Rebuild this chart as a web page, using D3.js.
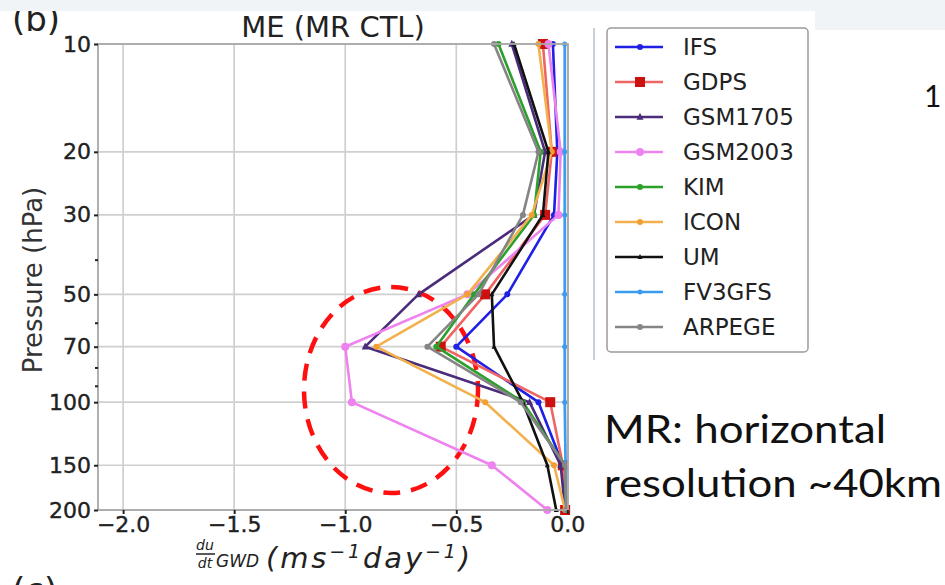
<!DOCTYPE html>
<html><head><meta charset="utf-8">
<script src="https://cdn.jsdelivr.net/npm/d3@7"></script>
<style>html,body{margin:0;padding:0;background:#fff;}svg{display:block;}</style>
</head><body>
<svg id="c" width="945" height="585"></svg>
<script>
// ---- data ----
const pressure = [10, 20, 30, 50, 70, 100, 150, 200];
const seriesNames = ["IFS","GDPS","GSM1705","GSM2003","KIM","ICON","UM","FV3GFS","ARPEGE"];
const IFS     = [-0.065,-0.045,-0.06,-0.27,-0.50,-0.13,-0.02,-0.01];
const GDPS    = [-0.11,-0.07,-0.10,-0.37,-0.57,-0.077,-0.02,-0.01];
const GSM1705 = [-0.25,-0.10,-0.15,-0.67,-0.91,-0.17,-0.03,-0.01];
const GSM2003 = [-0.085,-0.03,-0.04,-0.45,-1.00,-0.97,-0.34,-0.09];
const KIM     = [-0.31,-0.12,-0.15,-0.42,-0.59,-0.20,-0.01,-0.005];
const ICON    = [-0.13,-0.07,-0.16,-0.45,-0.86,-0.37,-0.06,-0.01];
const UM      = [-0.24,-0.085,-0.11,-0.34,-0.33,-0.20,-0.09,-0.05];
const FV3GFS  = [-0.012,-0.012,-0.012,-0.012,-0.012,-0.012,-0.008,-0.005];
const ARPEGE  = [-0.33,-0.13,-0.20,-0.40,-0.63,-0.21,-0.01,-0.005];
const xTicks = [-2.0,-1.5,-1.0,-0.5,0.0];
const yTicks = [10,20,30,50,70,100,150,200];
const yMinor = [40,60,80,90];

const values = {IFS,GDPS,GSM1705,GSM2003,KIM,ICON,UM,FV3GFS,ARPEGE};
const style = {
  IFS:{line:"#1f1fe6",mark:"#1f1fe6",shape:"circle",r:3},
  GDPS:{line:"#f06464",mark:"#cc1111",shape:"square",r:5},
  GSM1705:{line:"#4a2c7a",mark:"#4a2c7a",shape:"triangle",r:3.5},
  GSM2003:{line:"#ee82ee",mark:"#ee82ee",shape:"circle",r:4},
  KIM:{line:"#2ca02c",mark:"#2ca02c",shape:"circle",r:3},
  ICON:{line:"#f3b14e",mark:"#f0a030",shape:"circle",r:3},
  UM:{line:"#111111",mark:"#111111",shape:"triangle",r:2.5},
  FV3GFS:{line:"#3a9cf0",mark:"#3a9cf0",shape:"circle",r:2.5},
  ARPEGE:{line:"#858585",mark:"#858585",shape:"circle",r:3}
};

const svg = d3.select("#c");
const FONT = "DejaVu Sans, sans-serif";

svg.append("rect").attr("x",0).attr("y",0).attr("width",945).attr("height",585).attr("fill","#fff");

const x = d3.scaleLinear().domain([-2.113, 0.003]).range([98, 568]);
const y = d3.scaleLog().domain([10, 200]).range([44, 510]);

// grid
const grid = svg.append("g");
grid.selectAll("line.v").data(xTicks).join("line")
  .attr("x1",d=>x(d)).attr("x2",d=>x(d)).attr("y1",44).attr("y2",510)
  .attr("stroke","#cfcfcf").attr("stroke-width",1.7);
grid.selectAll("line.h").data(yTicks).join("line")
  .attr("y1",d=>y(d)).attr("y2",d=>y(d)).attr("x1",98).attr("x2",568)
  .attr("stroke","#cfcfcf").attr("stroke-width",1.7);

// red dashed ellipse (annotation)
svg.append("ellipse").attr("cx",391).attr("cy",390).attr("rx",87).attr("ry",103)
  .attr("fill","none").attr("stroke","#ff1010").attr("stroke-width",4.5)
  .attr("stroke-dasharray","17 11");

// lines
const lineGen = d3.line().x(d=>x(d.v)).y(d=>y(d.p));
function marker(g, shape, r, color, cx, cy){
  if(shape==="circle") g.append("circle").attr("cx",cx).attr("cy",cy).attr("r",r).attr("fill",color);
  else if(shape==="square") g.append("rect").attr("x",cx-r).attr("y",cy-r).attr("width",2*r).attr("height",2*r).attr("fill",color);
  else g.append("path").attr("d",`M${cx},${cy-r*1.2}L${cx+r},${cy+r*0.8}L${cx-r},${cy+r*0.8}Z`).attr("fill",color);
}
const plot = svg.append("g");
seriesNames.forEach(name=>{
  const pts = pressure.map((p,i)=>({p, v: values[name][i]}));
  const s = style[name];
  const g = plot.append("g");
  g.append("path").attr("d",lineGen(pts)).attr("fill","none")
    .attr("stroke",s.line).attr("stroke-width",2.6).attr("stroke-linejoin","round");
  pts.forEach(d=>marker(g, s.shape, s.r, s.mark, x(d.v), y(d.p)));
});

// spines
svg.append("rect").attr("x",98).attr("y",44).attr("width",470).attr("height",466)
  .attr("fill","none").attr("stroke","#a8a8a8").attr("stroke-width",1.8);

// axes
const xa = svg.append("g").attr("transform","translate(0,510)")
  .call(d3.axisBottom(x).tickValues(xTicks).tickFormat(d3.format(".1f")).tickSize(4).tickPadding(2));
const ya = svg.append("g").attr("transform","translate(98,0)")
  .call(d3.axisLeft(y).tickValues(yTicks).tickFormat(d3.format("d")).tickSize(4).tickPadding(3));
const ym = svg.append("g").attr("transform","translate(98,0)")
  .call(d3.axisLeft(y).tickValues(yMinor).tickFormat("").tickSize(3));
[xa,ya,ym].forEach(a=>{
  a.select(".domain").remove();
  a.selectAll(".tick line").attr("stroke","#222").attr("stroke-width",2);
  a.selectAll("text").attr("font-family",FONT).attr("font-size",22).attr("fill","#222")
    .attr("stroke","#222").attr("stroke-width",0.4);
});

// title
svg.append("text").attr("x",333).attr("y",37).attr("text-anchor","middle")
  .attr("font-family",FONT).attr("font-size",29).attr("fill","#222").text("ME (MR CTL)");

// y label
svg.append("text").attr("transform","translate(42,280) rotate(-90)").attr("text-anchor","middle")
  .attr("font-family",FONT).attr("font-size",26).attr("fill","#333").text("Pressure (hPa)");

// x label (du/dt_GWD (ms^-1 day^-1))
const xl = svg.append("g").attr("font-family",FONT).attr("fill","#222").attr("font-style","italic");
xl.append("text").attr("x",205).attr("y",550).attr("text-anchor","middle").attr("font-size",14).text("du");
xl.append("line").attr("x1",196).attr("x2",215).attr("y1",554).attr("y2",554).attr("stroke","#222").attr("stroke-width",1.5);
xl.append("text").attr("x",205).attr("y",568).attr("text-anchor","middle").attr("font-size",14).text("dt");
xl.append("text").attr("x",216).attr("y",567).attr("font-size",17).text("GWD");
const xt = xl.append("text").attr("x",266).attr("y",568).attr("font-size",29)
  .attr("textLength",204).attr("lengthAdjust","spacing");
xt.append("tspan").text("(ms");
xt.append("tspan").attr("font-size",19).attr("dy",-10).text("\u22121");
xt.append("tspan").attr("dy",10).text("day");
xt.append("tspan").attr("font-size",19).attr("dy",-10).text("\u22121");
xt.append("tspan").attr("dy",10).text(")");

// legend
svg.append("line").attr("x1",594).attr("x2",594).attr("y1",28).attr("y2",360).attr("stroke","#b8c0cc").attr("stroke-width",1.5);
svg.append("rect").attr("x",607).attr("y",28).attr("width",201).attr("height",324).attr("rx",4)
  .attr("fill","#fff").attr("stroke","#9a9a9a").attr("stroke-width",1.5);
const leg = svg.append("g");
seriesNames.forEach((name,i)=>{
  const ly = 47 + i*35;
  const s = style[name];
  const g = leg.append("g");
  g.append("line").attr("x1",615).attr("x2",663).attr("y1",ly).attr("y2",ly).attr("stroke",s.line).attr("stroke-width",2.4);
  marker(g, s.shape, s.r, s.mark, 640, ly);
  g.append("text").attr("x",683).attr("y",ly+8).attr("font-family",FONT).attr("font-size",23).attr("fill","#222").text(name);
});

// slide text
const SL = "Lato, Carlito, 'Open Sans', sans-serif";
svg.append("text").attr("x",604).attr("y",443).attr("font-family",SL).attr("font-size",38).attr("fill","#111")
  .attr("textLength",282).attr("lengthAdjust","spacingAndGlyphs").text("MR: horizontal");
svg.append("text").attr("x",604).attr("y",497).attr("font-family",SL).attr("font-size",38).attr("fill","#111")
  .attr("textLength",338).attr("lengthAdjust","spacingAndGlyphs").text("resolution ~40km");
svg.append("text").attr("x",924).attr("y",107).attr("font-family",SL).attr("font-size",30).attr("fill","#111").text("1");

// panel letters (partly cut by the page edge, as in the reference)
svg.append("text").attr("x",12).attr("y",31).attr("font-family",FONT).attr("font-size",34).attr("fill","#222").text("(b)");
svg.append("text").attr("x",12).attr("y",602).attr("font-family",FONT).attr("font-size",34).attr("fill","#222").text("(c)");
// top strip
svg.append("rect").attr("x",0).attr("y",0).attr("width",945).attr("height",11).attr("fill","#f1f4f7");
svg.append("rect").attr("x",815).attr("y",0).attr("width",130).attr("height",30).attr("fill","#f1f4f7");
</script>
</body></html>
